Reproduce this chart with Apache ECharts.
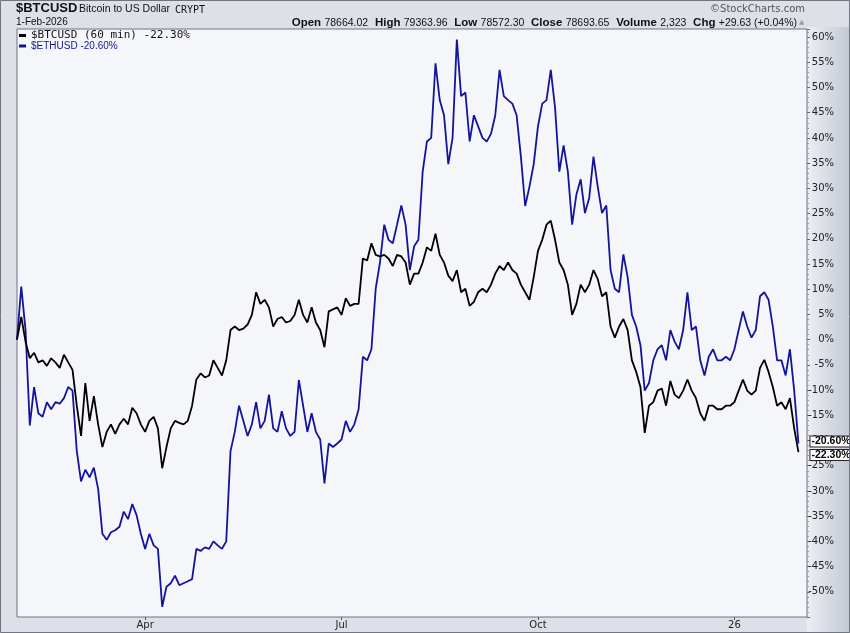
<!DOCTYPE html>
<html><head><meta charset="utf-8">
<script src="https://cdn.jsdelivr.net/npm/echarts@6/dist/echarts.min.js"></script>
<style>html,body{margin:0;padding:0;background:#dde0e7}#c{width:850px;height:633px}</style>
</head><body><div id="c"></div><script>
// ---- data (percent change, one reading every 2 days from 31-Jan-2025) ----
const startDate = [2025, 0, 31];
const stepDays = 2;
const trailingEmptySteps = 2;
const btc = [
 0, 4.5, -0.4, -3.7, -2.6, -4.5, -4.1, -5.2, -3.7, -4.5,
 -5.6, -3.0, -4.5, -6.0, -13.1, -19.1, -8.6, -16.1, -11.2, -16.8,
 -21.3, -18.3, -16.8, -18.7, -16.8, -15.7, -16.8, -13.5, -14.6, -16.8,
 -18.3, -16.1, -15.3, -17.6, -25.5, -21.3, -17.6, -16.1, -16.5, -16.8,
 -16.1, -13.1, -7.9, -6.7, -7.5, -7.1, -4.1, -5.6, -7.1, -4.1,
 1.9, 2.6, 1.9, 2.2, 3.0, 4.9, 9.4, 7.1, 7.9, 6.4,
 2.6, 4.1, 4.5, 3.4, 3.7, 4.9, 7.9, 4.9, 3.4, 6.4,
 3.4, 1.9, -1.5, 5.6, 6.0, 6.4, 4.9, 8.2, 6.7, 7.1,
 7.1, 16.1, 15.7, 19.1, 16.8, 16.5, 16.8, 16.1, 14.6, 16.8,
 16.5, 15.3, 10.9, 13.1, 13.1, 15.3, 18.3, 17.6, 21.0, 16.8,
 15.3, 12.7, 11.6, 13.8, 9.4, 10.1, 6.7, 7.5, 9.4, 10.1,
 9.4, 10.9, 13.1, 14.6, 13.8, 15.3, 13.8, 13.1, 10.9, 9.4,
 7.9, 12.4, 17.6, 19.8, 22.8, 23.6, 19.8, 15.3, 13.8, 10.9,
 4.9, 7.1, 10.9, 9.4, 10.9, 13.8, 12.0, 8.6, 9.4, 2.6,
 0.4, 2.6, 4.1, 1.9, -4.1, -6.4, -9.4, -18.5, -13.1, -12.4,
 -10.1, -9.7, -13.1, -8.2, -10.9, -11.6, -10.1, -7.9, -10.1, -11.6,
 -14.6, -16.1, -13.1, -13.1, -13.8, -13.8, -13.1, -13.1, -12.4, -10.1,
 -7.9, -10.1, -10.9, -10.1, -5.6, -4.0, -6.4, -9.4, -13.1, -12.4,
 -13.8, -11.6, -17.6, -22.3
];
const eth = [
 0, 10.5, 1.9, -17.0, -9.4, -14.6, -15.3, -12.4, -13.8, -12.4,
 -12.7, -11.6, -9.4, -10.1, -22.1, -28.1, -25.8, -27.3, -25.4, -29.6,
 -38.5, -39.7, -38.2, -37.8, -37.1, -34.1, -35.6, -32.6, -34.8, -38.5,
 -41.5, -38.5, -40.8, -41.5, -53.0, -49.0, -48.3, -46.8, -48.7, -48.3,
 -47.9, -47.5, -41.5, -41.9, -41.2, -41.5, -40.0, -40.8, -41.5, -40.0,
 -22.1, -18.3, -13.1, -16.1, -19.1, -16.8, -12.4, -17.6, -16.1, -10.9,
 -17.6, -18.3, -14.2, -17.6, -19.1, -18.3, -8.0, -13.1, -18.3, -14.6,
 -18.3, -19.8, -28.5, -20.6, -21.3, -20.6, -19.8, -16.1, -18.3, -16.8,
 -13.8, -3.4, -4.1, -1.9, 10.1, 15.3, 22.8, 19.8, 19.1, 22.8,
 26.6, 22.8, 13.8, 18.5, 19.8, 33.3, 39.3, 40.0, 54.8, 47.5,
 44.5, 34.8, 40.0, 59.5, 48.3, 49.0, 39.3, 44.5, 42.3, 40.0,
 39.3, 40.8, 44.5, 53.5, 48.3, 47.5, 46.8, 44.5, 36.3, 26.5,
 30.3, 34.8, 42.3, 46.8, 47.5, 53.5, 46.0, 33.3, 38.5, 33.3,
 22.8, 28.8, 31.8, 25.1, 28.1, 36.3, 30.3, 25.1, 26.6, 13.8,
 10.1, 9.4, 16.9, 12.4, 4.9, 2.6, -1.1, -10.1, -8.6, -4.1,
 -1.9, -1.1, -4.1, 1.9, -0.4, -1.9, 1.9, 9.4, 1.9, 2.6,
 -4.1, -7.1, -3.4, -1.9, -4.1, -4.1, -3.4, -4.1, -1.9, 1.9,
 5.6, 2.6, 0.4, 1.9, 8.6, 9.4, 7.9, 2.6, -4.1, -4.1,
 -7.1, -1.9, -10.1, -20.6
];
const quarterTickLabels = {'2025-04': 'Apr', '2025-07': 'Jul', '2025-10': 'Oct', '2026-01': '26'};
const seriesNames = ['$BTCUSD (60 min)', '$ETHUSD'];
const headerQuote = [['Open', '78664.02'], ['High', '79363.96'], ['Low', '78572.30'], ['Close', '78693.65'], ['Volume', '2,323'], ['Chg', '+29.63 (+0.04%)']];

// ---- build ----
const dates = [];
const t0 = Date.UTC(startDate[0], startDate[1], startDate[2]);
for (let i = 0; i < btc.length + trailingEmptySteps; i++) dates.push(new Date(t0 + i * stepDays * 86400000).toISOString().slice(0, 10));
function isQuarterStart(idx) {
  if (idx === 0) return false;
  const m = dates[idx].slice(0, 7);
  return m !== dates[idx - 1].slice(0, 7) && (m in quarterTickLabels);
}
const fmt = v => v.toFixed(2) + '%';
const lastBtc = btc[btc.length - 1], lastEth = eth[eth.length - 1];
const legendText = {};
legendText[seriesNames[0]] = '{a|' + seriesNames[0] + ' ' + fmt(lastBtc) + '}';
legendText[seriesNames[1]] = '{b|' + seriesNames[1] + ' ' + fmt(lastEth) + '}';
const quoteRich = headerQuote.map(q => '{k|' + q[0] + '} {v|' + q[1] + '}').join('  ');

const chart = echarts.init(document.getElementById('c'), null, {renderer: 'canvas'});
const endLab = (dy) => ({
  show: true, distance: 12, offset: [0, dy],
  formatter: p => fmt(p.value),
  backgroundColor: '#ffffff', borderColor: '#222', borderWidth: 1,
  padding: [0, 1, -1, 1], color: '#000', fontWeight: 'bold', fontSize: 10.5,
  fontFamily: 'Liberation Sans', lineHeight: 11
});
chart.setOption({
  animation: false,
  backgroundColor: '#dde0e7',
  graphic: [
    {type: 'rect', z: -10, silent: true, shape: {x: 807, y: 27, width: 43, height: 606},
     style: {fill: new echarts.graphic.LinearGradient(0, 0, 1, 0, [{offset: 0, color: '#eceef3'}, {offset: 1, color: '#c3c8d4'}])}},
    {type: 'rect', z: 100, silent: true, shape: {x: 0.5, y: 0.5, width: 849, height: 632},
     style: {fill: 'none', stroke: '#70757f', lineWidth: 1}},
    {type: 'text', left: 16, top: 2, style: {text: '$BTCUSD', font: 'bold 13px "Liberation Sans"', fill: '#111'}},
    {type: 'text', left: 79, top: 4, style: {text: 'Bitcoin to US Dollar', font: '10.5px "Liberation Sans"', fill: '#111'}},
    {type: 'text', left: 175, top: 5, style: {text: 'CRYPT', font: '10px "DejaVu Sans Mono"', fill: '#111'}},
    {type: 'text', left: 16, top: 17, style: {text: '1-Feb-2026', font: '10px "Liberation Sans"', fill: '#111'}},
    {type: 'text', right: 53, top: 17, style: {text: quoteRich, rich: {
      k: {font: 'bold 11.5px "Liberation Sans"', fill: '#111'},
      v: {font: '10.5px "Liberation Sans"', fill: '#111'}}}},
    {type: 'text', left: 799, top: 19, style: {text: '▲', font: '7px "DejaVu Sans"', fill: '#9a9ea8'}},
    {type: 'text', right: 45, top: 4, style: {text: '©StockCharts.com', font: '10px "DejaVu Sans"', fill: '#555'}}
  ],
  grid: {left: 17, right: 43, top: 29, bottom: 16, show: true, backgroundColor: '#f5f6fa', borderColor: '#6e7383', borderWidth: 1},
  legend: {
    left: 19, top: 29, orient: 'vertical', itemGap: 0, itemWidth: 7, itemHeight: 3,
    icon: 'rect', padding: [1, 0, 0, 0],
    formatter: n => legendText[n],
    textStyle: {rich: {
      a: {fontFamily: 'DejaVu Sans Mono', fontSize: 11, color: '#111', lineHeight: 10},
      b: {fontFamily: 'Liberation Sans', fontSize: 10, color: '#14149a', lineHeight: 10}}}
  },
  xAxis: {
    type: 'category', data: dates, boundaryGap: false,
    axisLine: {show: false, onZero: false},
    axisTick: {show: true, interval: isQuarterStart, length: 3, lineStyle: {color: '#555'}},
    axisLabel: {interval: isQuarterStart, formatter: v => quarterTickLabels[v.slice(0, 7)] || '',
      color: '#222', fontSize: 10, margin: 3, fontFamily: 'DejaVu Sans'},
    splitLine: {show: false}
  },
  yAxis: {
    type: 'value', position: 'right', min: -55, max: 61.6, interval: 5,
    axisLine: {show: false},
    axisTick: {show: true, length: 3, lineStyle: {color: '#666'}},
    minorTick: {show: true, splitNumber: 5, length: 2, lineStyle: {color: '#999'}},
    splitLine: {show: false},
    axisLabel: {align: 'right', margin: 27, color: '#222', fontSize: 10, fontFamily: 'DejaVu Sans',
      formatter: v => (Math.abs(v % 5) > 1e-6 || v <= -55) ? '' : v + '%'}
  },
  series: [
    {name: seriesNames[0], type: 'line', data: btc, showSymbol: false, z: 3,
     lineStyle: {width: 1.8, color: '#000'}, itemStyle: {color: '#000'}, endLabel: endLab(3)},
    {name: seriesNames[1], type: 'line', data: eth, showSymbol: false, z: 2,
     lineStyle: {width: 1.8, color: '#14149a'}, itemStyle: {color: '#14149a'}, endLabel: endLab(-2)}
  ]
});
</script></body></html>
